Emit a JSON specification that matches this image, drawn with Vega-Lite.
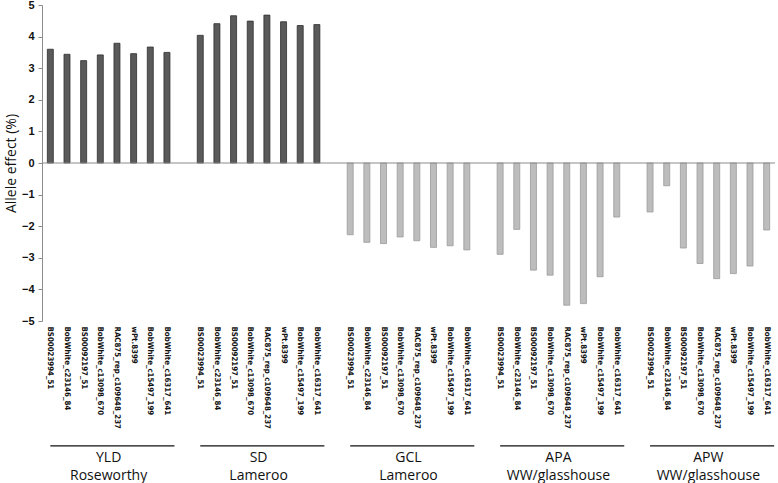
{
  "$schema": "https://vega.github.io/schema/vega-lite/v6.json",
  "autosize": "none",
  "width": 733,
  "height": 316,
  "padding": {"left": 42, "top": 5, "right": 3, "bottom": 162},
  "background": "white",
  "config": {"view": {"stroke": null}},
  "datasets": {
    "bars": [
      {"id": "YLD|BS00023994_51", "group": "YLD", "value": 3.60},
      {"id": "YLD|BobWhite_c23146_84", "group": "YLD", "value": 3.44},
      {"id": "YLD|BS00092197_51", "group": "YLD", "value": 3.24},
      {"id": "YLD|BobWhite_c13098_670", "group": "YLD", "value": 3.42},
      {"id": "YLD|RAC875_rep_c109648_237", "group": "YLD", "value": 3.79},
      {"id": "YLD|wPt.8399", "group": "YLD", "value": 3.46},
      {"id": "YLD|BobWhite_c15497_199", "group": "YLD", "value": 3.67},
      {"id": "YLD|BobWhite_c16317_641", "group": "YLD", "value": 3.50},
      {"id": "SD|BS00023994_51", "group": "SD", "value": 4.04},
      {"id": "SD|BobWhite_c23146_84", "group": "SD", "value": 4.41},
      {"id": "SD|BS00092197_51", "group": "SD", "value": 4.66},
      {"id": "SD|BobWhite_c13098_670", "group": "SD", "value": 4.49},
      {"id": "SD|RAC875_rep_c109648_237", "group": "SD", "value": 4.68},
      {"id": "SD|wPt.8399", "group": "SD", "value": 4.47},
      {"id": "SD|BobWhite_c15497_199", "group": "SD", "value": 4.35},
      {"id": "SD|BobWhite_c16317_641", "group": "SD", "value": 4.38},
      {"id": "GCL|BS00023994_51", "group": "GCL", "value": -2.27},
      {"id": "GCL|BobWhite_c23146_84", "group": "GCL", "value": -2.51},
      {"id": "GCL|BS00092197_51", "group": "GCL", "value": -2.55},
      {"id": "GCL|BobWhite_c13098_670", "group": "GCL", "value": -2.34},
      {"id": "GCL|RAC875_rep_c109648_237", "group": "GCL", "value": -2.46},
      {"id": "GCL|wPt.8399", "group": "GCL", "value": -2.67},
      {"id": "GCL|BobWhite_c15497_199", "group": "GCL", "value": -2.62},
      {"id": "GCL|BobWhite_c16317_641", "group": "GCL", "value": -2.75},
      {"id": "APA|BS00023994_51", "group": "APA", "value": -2.89},
      {"id": "APA|BobWhite_c23146_84", "group": "APA", "value": -2.10},
      {"id": "APA|BS00092197_51", "group": "APA", "value": -3.39},
      {"id": "APA|BobWhite_c13098_670", "group": "APA", "value": -3.55},
      {"id": "APA|RAC875_rep_c109648_237", "group": "APA", "value": -4.50},
      {"id": "APA|wPt.8399", "group": "APA", "value": -4.45},
      {"id": "APA|BobWhite_c15497_199", "group": "APA", "value": -3.60},
      {"id": "APA|BobWhite_c16317_641", "group": "APA", "value": -1.71},
      {"id": "APW|BS00023994_51", "group": "APW", "value": -1.55},
      {"id": "APW|BobWhite_c23146_84", "group": "APW", "value": -0.72},
      {"id": "APW|BS00092197_51", "group": "APW", "value": -2.69},
      {"id": "APW|BobWhite_c13098_670", "group": "APW", "value": -3.18},
      {"id": "APW|RAC875_rep_c109648_237", "group": "APW", "value": -3.66},
      {"id": "APW|wPt.8399", "group": "APW", "value": -3.50},
      {"id": "APW|BobWhite_c15497_199", "group": "APW", "value": -3.26},
      {"id": "APW|BobWhite_c16317_641", "group": "APW", "value": -2.12}
    ],
    "groups": [
      {"label": "YLD\nRoseworthy", "first": "YLD|BS00023994_51", "mid": "YLD|BobWhite_c13098_670", "last": "YLD|BobWhite_c16317_641"},
      {"label": "SD\nLameroo", "first": "SD|BS00023994_51", "mid": "SD|BobWhite_c13098_670", "last": "SD|BobWhite_c16317_641"},
      {"label": "GCL\nLameroo", "first": "GCL|BS00023994_51", "mid": "GCL|BobWhite_c13098_670", "last": "GCL|BobWhite_c16317_641"},
      {"label": "APA\nWW/glasshouse", "first": "APA|BS00023994_51", "mid": "APA|BobWhite_c13098_670", "last": "APA|BobWhite_c16317_641"},
      {"label": "APW\nWW/glasshouse", "first": "APW|BS00023994_51", "mid": "APW|BobWhite_c13098_670", "last": "APW|BobWhite_c16317_641"}
    ]
  },
  "encoding": {
    "y": {
      "type": "quantitative",
      "scale": {"domain": [-5, 5], "nice": false},
      "axis": {
        "title": "Allele effect (%)",
        "titleFont": "Open Sans",
        "titleFontSize": 14,
        "titleFontWeight": "normal",
        "titleColor": "#111111",
        "titlePadding": 3,
        "values": [-5, -4, -3, -2, -1, 0, 1, 2, 3, 4, 5],
        "tickCount": 20,
        "format": "d",
        "labelOverlap": false,
        "labelBound": false,
        "grid": false,
        "domainColor": "#8c8c8c",
        "tickColor": "#8c8c8c",
        "tickSize": 4,
        "labelFont": "Liberation Sans",
        "labelFontSize": 11,
        "labelFontWeight": "bold",
        "labelColor": "#111111",
        "labelPadding": 4
      }
    }
  },
  "layer": [
    {
      "data": {"name": "bars"},
      "mark": {"type": "bar", "width": {"band": 0.36}, "strokeWidth": 0.8},
      "encoding": {
        "x": {
          "field": "id",
          "type": "nominal",
          "sort": null,
          "scale": {
            "domain": [
              "YLD|BS00023994_51", "YLD|BobWhite_c23146_84", "YLD|BS00092197_51", "YLD|BobWhite_c13098_670", "YLD|RAC875_rep_c109648_237", "YLD|wPt.8399", "YLD|BobWhite_c15497_199", "YLD|BobWhite_c16317_641", "gap1",
              "SD|BS00023994_51", "SD|BobWhite_c23146_84", "SD|BS00092197_51", "SD|BobWhite_c13098_670", "SD|RAC875_rep_c109648_237", "SD|wPt.8399", "SD|BobWhite_c15497_199", "SD|BobWhite_c16317_641", "gap2",
              "GCL|BS00023994_51", "GCL|BobWhite_c23146_84", "GCL|BS00092197_51", "GCL|BobWhite_c13098_670", "GCL|RAC875_rep_c109648_237", "GCL|wPt.8399", "GCL|BobWhite_c15497_199", "GCL|BobWhite_c16317_641", "gap3",
              "APA|BS00023994_51", "APA|BobWhite_c23146_84", "APA|BS00092197_51", "APA|BobWhite_c13098_670", "APA|RAC875_rep_c109648_237", "APA|wPt.8399", "APA|BobWhite_c15497_199", "APA|BobWhite_c16317_641", "gap4",
              "APW|BS00023994_51", "APW|BobWhite_c23146_84", "APW|BS00092197_51", "APW|BobWhite_c13098_670", "APW|RAC875_rep_c109648_237", "APW|wPt.8399", "APW|BobWhite_c15497_199", "APW|BobWhite_c16317_641"
            ],
            "paddingInner": 0,
            "paddingOuter": 0
          },
          "axis": {
            "title": null,
            "domain": false,
            "ticks": false,
            "labelAngle": 90,
            "labelAlign": "left",
            "labelBaseline": "middle",
            "labelPadding": 5,
            "labelFont": "DejaVu Sans Condensed",
            "labelFontSize": 7.8,
            "labelFontWeight": "bold",
            "labelColor": "#111111",
            "labelOverlap": false,
            "labelExpr": "indexof(datum.value, '|') > 0 ? split(datum.value, '|')[1] : ''"
          }
        },
        "y": {"field": "value"},
        "color": {
          "condition": {"test": "datum.value > 0", "value": "#5a5a5a"},
          "value": "#bdbdbd"
        },
        "stroke": {
          "condition": {"test": "datum.value > 0", "value": "#2e2e2e"},
          "value": "#9a9a9a"
        }
      }
    },
    {
      "data": {"values": [{"zero": 0}]},
      "mark": {"type": "rule", "color": "#8c8c8c", "strokeWidth": 1.2},
      "encoding": {"y": {"field": "zero"}}
    },
    {
      "data": {"name": "groups"},
      "mark": {"type": "rule", "color": "#111111", "strokeWidth": 1.2},
      "encoding": {
        "x": {"field": "first", "type": "nominal", "bandPosition": 0.5},
        "x2": {"field": "last", "bandPosition": 0.95},
        "y": {"datum": -8.95}
      }
    },
    {
      "data": {"name": "groups"},
      "mark": {"type": "text", "lineBreak": "\n", "font": "Open Sans", "fontSize": 14, "lineHeight": 18, "baseline": "top", "align": "center", "color": "#111111"},
      "encoding": {
        "x": {"field": "mid", "type": "nominal", "bandPosition": 1},
        "y": {"datum": -9.1},
        "text": {"field": "label"}
      }
    }
  ]
}
